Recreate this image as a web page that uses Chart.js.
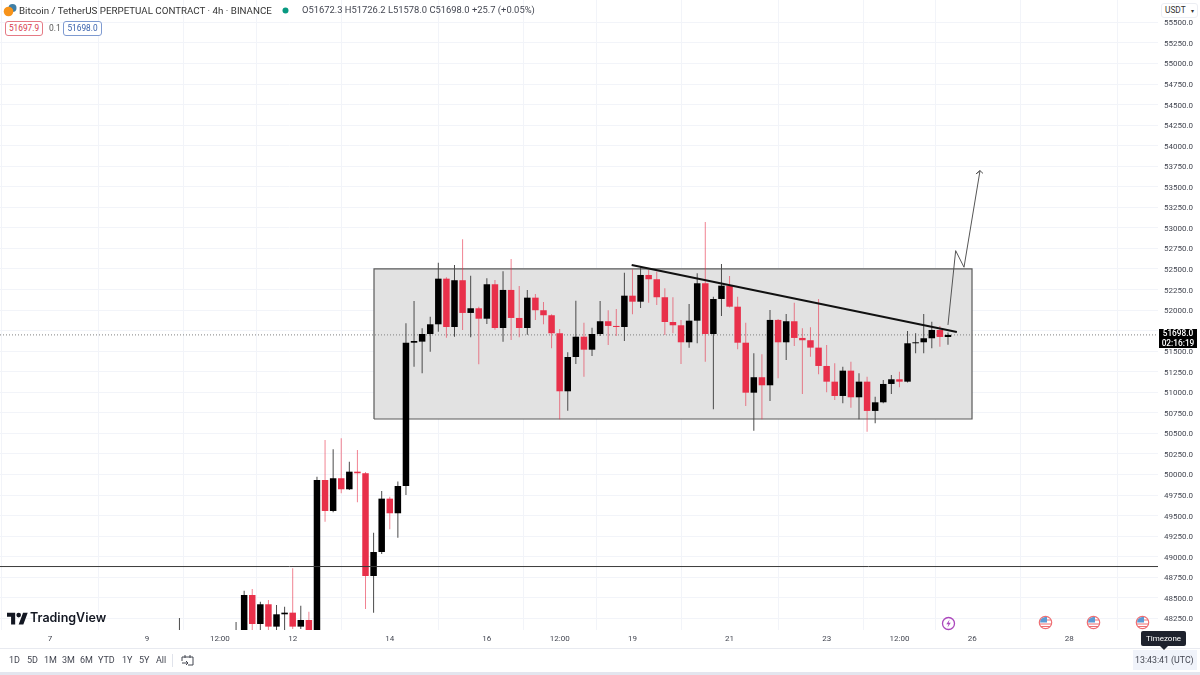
<!DOCTYPE html>
<html>
<head>
<meta charset="utf-8">
<script src="https://cdn.jsdelivr.net/npm/chart.js@4"></script>
<style>
    html, body { margin: 0; padding: 0; background: #fff; }
    #wrap { position: relative; width: 1200px; height: 675px; overflow: hidden; font-family: Roboto, sans-serif; color: #131722; }
    canvas { position: absolute; left: 0; top: 0; }
    .txt { position: absolute; white-space: nowrap; }
    .box { position: absolute; box-sizing: border-box; height: 15px; line-height: 13px; font-size: 8.3px; text-align: center; background: #fff; border-radius: 3px; white-space: nowrap; }
    .range { position: absolute; top: 654px; font-size: 9px; line-height: 13px; color: #434651; }
    svg { position: absolute; }
</style>
</head>
<body>
<div id="wrap">
    <canvas id="chart" width="1200" height="675"></canvas>

    <!-- cabecalho -->
    <svg style="left:3px;top:3px" width="14" height="14" viewBox="0 0 14 14"><circle cx="9.5" cy="5" r="4" fill="#3f7fa6"/><circle cx="5.5" cy="8.5" r="4.8" fill="#f7931a"/></svg>
    <div class="txt" style="left:19px;top:3px;font-size:9.75px;line-height:16px;color:#333">Bitcoin / TetherUS PERPETUAL CONTRACT · 4h · BINANCE</div>
    <svg style="left:281px;top:6px" width="9" height="9"><circle cx="4.5" cy="4.5" r="3" fill="#089981"/></svg>
    <div class="txt" style="left:302px;top:3px;font-size:9.4px;line-height:14px;color:#434651">O51672.3 H51726.2 L51578.0 C51698.0 +25.7 (+0.05%)</div>
    <div class="box" style="left:5px;top:21px;width:38px;border:1px solid #e57a85;color:#d8394a">51697.9</div>
    <div class="txt" style="left:49px;top:22px;font-size:8.5px;line-height:13px;color:#555">0.1</div>
    <div class="box" style="left:63px;top:21px;width:39px;border:1px solid #7f9bd1;color:#3a62ad">51698.0</div>

    <!-- eixo de preco -->
    <div class="box" style="left:1161px;top:3px;width:37px;height:15px;border:1px solid #eceef3;text-align:left;padding-left:3px;color:#333">USDT <span style="font-size:6px;margin-left:3px">▾</span></div>
    <div class="txt" style="left:1159px;top:329px;width:38px;height:19px;background:#000;color:#fff;font-size:8.3px;line-height:9.5px;text-align:center;font-weight:500">51698.0<br>02:16:19</div>

    <!-- logo -->
    <svg style="left:7px;top:611px" width="21" height="14" viewBox="0 2 36 22"><path fill="#131722" d="M14 24H7V11H0V4h14v20zM28 24h-8l7.5-20h8L28 24z"/><circle cx="20" cy="8" r="4" fill="#131722"/></svg>
    <div class="txt" style="left:30px;top:609px;font-family:Inter,sans-serif;font-size:12.5px;line-height:18px;font-weight:600;color:#131722">TradingView</div>

    <!-- eventos -->
    <svg style="left:941px;top:616px" width="15" height="15" viewBox="0 0 15 15"><circle cx="7.5" cy="7.5" r="6" fill="#fff" stroke="#ab47bc" stroke-width="1.3"/><path d="M8.6 3.6 5.3 8.2h2.2l-1 3.2 3.3-4.6H7.6z" fill="#ab47bc"/></svg>
    <svg style="left:1038px;top:615px" width="15" height="15" viewBox="0 0 15 15"><circle cx="7.5" cy="7.5" r="6.2" fill="#fff" stroke="#ee6e73" stroke-width="1.2"/><path d="M2 5h11M1.6 9h11.8M3 11.5h9" stroke="#ee6e73" stroke-width="1.2"/><path d="M2 7.5a6 6 0 0 1 5-5.5h2v5.5z" fill="#5b9bd5"/></svg>
    <svg style="left:1086px;top:615px" width="15" height="15" viewBox="0 0 15 15"><circle cx="7.5" cy="7.5" r="6.2" fill="#fff" stroke="#ee6e73" stroke-width="1.2"/><path d="M2 5h11M1.6 9h11.8M3 11.5h9" stroke="#ee6e73" stroke-width="1.2"/><path d="M2 7.5a6 6 0 0 1 5-5.5h2v5.5z" fill="#5b9bd5"/></svg>
    <svg style="left:1135px;top:615px" width="15" height="15" viewBox="0 0 15 15"><circle cx="7.5" cy="7.5" r="6.2" fill="#fff" stroke="#ee6e73" stroke-width="1.2"/><path d="M2 5h11M1.6 9h11.8M3 11.5h9" stroke="#ee6e73" stroke-width="1.2"/><path d="M2 7.5a6 6 0 0 1 5-5.5h2v5.5z" fill="#5b9bd5"/></svg>

    <!-- rodape -->
    <div style="position:absolute;left:0;top:648px;width:1200px;height:1px;background:#e8eaf0"></div>
    <div style="position:absolute;left:0;top:672px;width:1200px;height:3px;background:#e3e6ef"></div>
    <div class="range" style="left:9px">1D</div>
    <div class="range" style="left:27px">5D</div>
    <div class="range" style="left:44px">1M</div>
    <div class="range" style="left:62px">3M</div>
    <div class="range" style="left:80px">6M</div>
    <div class="range" style="left:98px">YTD</div>
    <div class="range" style="left:122px">1Y</div>
    <div class="range" style="left:139px">5Y</div>
    <div class="range" style="left:156px">All</div>
    <div style="position:absolute;left:172px;top:654px;width:1px;height:13px;background:#e0e3eb"></div>
    <svg style="left:181px;top:654px" width="13" height="13" viewBox="0 0 13 13" fill="none" stroke="#434651" stroke-width="1"><path d="M1 3h11v8H7M1 3v4M1 9h6m-2-2 2 2-2 2M4 1v3M9 1v3"/></svg>
    <div style="position:absolute;left:1133px;top:650px;width:64px;height:20px;background:#f0f3fa"></div>
    <div class="txt" style="left:1135px;top:653px;font-size:8.8px;line-height:14px;color:#434651">13:43:41 (UTC)</div>
    <div class="txt" style="left:1141px;top:631px;width:45px;height:15px;background:#1e222d;color:#fff;font-size:8px;line-height:15px;text-align:center;border-radius:2px">Timezone</div>
    <svg style="left:1160px;top:646px" width="8" height="4"><path d="M0 0h8L4 4z" fill="#1e222d"/></svg>
</div>

<script>
    // Valores (candles de 4h)
    const firstCandle = 16; // candle 0 = dia 7 00:00
    const earlyOpen  = [47900, null, null, null, null, null, null, 47950];
    const earlyHigh  = [48254, null, null, null, null, null, null, 48206];
    const earlyLow   = [47800, null, null, null, null, null, null, 47850];
    const earlyClose = [47950, null, null, null, null, null, null, 48000];

    const opens = [
        47950,48534,48181,48421,48149,48299,48319,48149,48230,48050,
        49933,49556,49954,49820,50034,50015,48765,49057,49706,49528,
        49860,51603,51616,51709,51827,52382,51794,52363,51965,52022,
        51895,52314,51782,52245,51904,51782,52151,51998,51937,51718,
        51012,51429,51676,51518,51709,51864,51807,51794,52175,52102,
        52427,52375,52156,51855,51815,51608,51871,52326,51709,52135,
        52297,52041,51603,50995,51183,51085,51880,51608,51864,51661,
        51633,51543,51320,51129,50955,51263,50939,51129,50773,50878,
        51101,51158,51129,51596,51608,51657,51758,51672.3
    ];
    const closes = [
        48534,48181,48421,48149,48299,48319,48149,48230,48050,49933,
        49556,49954,49820,50034,50015,48765,49057,49706,49528,49860,
        51603,51624,51709,51827,52382,51794,52363,51965,52022,51895,
        52314,51782,52245,51904,51782,52151,51998,51937,51718,51012,
        51429,51676,51518,51709,51864,51807,51794,52175,52102,52427,
        52375,52156,51855,51815,51608,51871,52326,51709,52135,52297,
        52041,51603,50995,51183,51085,51880,51608,51864,51661,51633,
        51543,51320,51129,50955,51263,50939,51129,50773,50878,51101,
        51158,51129,51596,51608,51657,51758,51673,51698
    ];
    const highs = [
        48587,48607,48453,48473,48413,48392,48859,48404,48331,49973,
        50420,50307,50440,50156,50298,50030,49292,49799,49730,49913,
        51839,52111,51779,51920,52577,52400,52549,52861,52418,52040,
        52387,52366,52472,52622,52293,52245,52196,52099,51950,51770,
        51487,52114,51847,51786,52111,51998,52013,52455,52496,52521,
        52488,52467,52265,52156,51880,52074,52448,53072,52163,52561,
        52415,52163,51847,51474,51462,52001,51890,51953,52090,51779,
        51791,52135,51575,51353,51311,51372,51231,51190,50947,51150,
        51211,51251,51746,51718,51953,51859,51807,51726.2
    ];
    const lows = [
        47900,48100,48100,48100,48100,48100,48121,48121,48000,48000,
        49426,49540,49771,49810,49662,48364,48319,49033,49333,49231,
        49751,51311,51231,51494,51737,51664,51676,51758,51669,51341,
        51831,51760,51616,51636,51669,51701,51880,51827,51535,50672,
        50776,51344,51190,51442,51685,51575,51685,51624,51949,52026,
        52090,52062,51697,51718,51344,51543,51596,51372,50793,51928,
        52030,51523,50833,50533,50672,50894,51170,51393,51563,50979,
        51433,51219,51000,50906,50866,50813,50672,50521,50623,50866,
        50979,51061,51120,51474,51474,51535,51555,51578
    ];

    const priceTicks = [
        48250,48500,48750,49000,49250,49500,49750,50000,50250,50500,50750,51000,51250,51500,
        51750,52000,52250,52500,52750,53000,53250,53500,53750,54000,54250,54500,54750,55000,55250,55500
    ];
    const dateTicks  = [0, 12, 21, 30, 42, 54, 63, 72, 84, 96, 105, 114, 126];
    const dateLabels = ['7', '9', '12:00', '12', '14', '16', '12:00', '19', '21', '23', '12:00', '26', '28'];

    // Desenhos do autor (x em candles, y em preco)
    const xMin = -6.18, xMax = 136.96, yMin = 48108, yMax = 55772;
    const lastPrice = 51698;
    const levelPrice = 48880;
    const rangeBoxX = [40.05, 113.97];
    const rangeBoxY = [50675, 52500];
    const trendX = [71.9, 112.1];
    const trendY = [52549, 51734];
    const arrowX = [111, 111.95, 112.98, 114.96, 114.46, 114.96, 115.33];
    const arrowY = [51819, 52723, 52521, 53696, 53656, 53696, 53662];

    const UP = '#000000', DOWN = '#e8304a';
    const UP_WICK = '#4a4a4a', DOWN_WICK = 'rgba(232, 48, 74, 0.6)';

    // Juntar as listas
    const allOpen = earlyOpen.concat(opens);
    const allClose = earlyClose.concat(closes);
    const allHigh = earlyHigh.concat(highs);
    const allLow = earlyLow.concat(lows);

    const bodies = [], wicks = [], bodyColors = [], wickColors = [];
    allOpen.forEach((open, i) => {
        if (open === null) return;
        const x = firstCandle + i;
        const up = allClose[i] >= open;
        bodies.push({ x: x, y: [open, allClose[i]] });
        wicks.push({ x: x, y: [allLow[i], allHigh[i]] });
        bodyColors.push(up ? UP : DOWN);
        wickColors.push(up ? UP_WICK : DOWN_WICK);
    });

    const toPoints = (xs, ys) => xs.map((x, i) => ({ x: x, y: ys[i] }));
    const lineSet = (data, color, width, order, extra) => Object.assign({
        type: 'line', data: data, borderColor: color, borderWidth: width, order: order,
        pointRadius: 0, tension: 0, fill: false
    }, extra || {});

    const boxPoints = toPoints(
        [rangeBoxX[0], rangeBoxX[1], rangeBoxX[1], rangeBoxX[0], rangeBoxX[0]],
        [rangeBoxY[0], rangeBoxY[0], rangeBoxY[1], rangeBoxY[1], rangeBoxY[0]]
    );

    new Chart(document.getElementById('chart').getContext('2d'), {
        type: 'bar',
        data: {
            datasets: [
                lineSet(toPoints(trendX, trendY), '#111111', 2, 0),
                lineSet(toPoints(arrowX, arrowY), '#555555', 1, 0),
                lineSet(toPoints([xMin, xMax], [levelPrice, levelPrice]), '#3a3a3a', 1, 0),
                { data: bodies, backgroundColor: bodyColors, barThickness: 6.5, grouped: false, order: 1, inflateAmount: 0 },
                { data: wicks, backgroundColor: wickColors, barThickness: 1, grouped: false, order: 2, inflateAmount: 0 },
                lineSet(toPoints([xMin, xMax], [lastPrice, lastPrice]), '#808080', 1, 3, { borderDash: [1, 2] }),
                lineSet(boxPoints, '#5a5a5a', 1.2, 4, { fill: 'shape', backgroundColor: '#e2e2e2' })
            ]
        },
        options: {
            responsive: false,
            animation: false,
            events: [],
            layout: { padding: 0 },
            plugins: { legend: { display: false }, tooltip: { enabled: false } },
            scales: {
                x: {
                    type: 'linear',
                    offset: false,
                    min: xMin,
                    max: xMax,
                    afterBuildTicks: axis => { axis.ticks = dateTicks.map(v => ({ value: v })); },
                    afterFit: axis => { axis.height = 45; axis.paddingLeft = 0; axis.paddingRight = 0; },
                    grid: { color: '#f2f4f9', drawTicks: false },
                    border: { display: false },
                    ticks: {
                        autoSkip: false,
                        maxRotation: 0,
                        padding: 4,
                        color: '#434651',
                        font: { family: 'Roboto', size: 8 },
                        callback: v => dateLabels[dateTicks.indexOf(v)]
                    }
                },
                y: {
                    position: 'right',
                    min: yMin,
                    max: yMax,
                    afterBuildTicks: axis => { axis.ticks = priceTicks.map(v => ({ value: v })); },
                    afterFit: axis => { axis.width = 42; axis.paddingTop = 0; axis.paddingBottom = 0; },
                    grid: { color: '#f2f4f9', drawTicks: false },
                    border: { display: false },
                    ticks: {
                        autoSkip: false,
                        padding: 6,
                        labelOffset: 1,
                        color: '#434651',
                        font: { family: 'Roboto', size: 8 },
                        callback: v => v.toFixed(1)
                    }
                }
            }
        }
    });
</script>
</body>
</html>
